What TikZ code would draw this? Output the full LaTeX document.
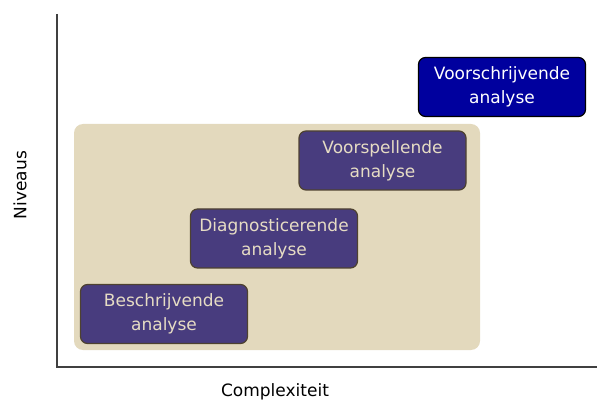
\documentclass[tikz,border=0pt]{standalone}
\usepackage{fontspec}
\setmainfont{DejaVu Sans}
\begin{document}
\begin{tikzpicture}[x=1pt,y=-1pt,
  purplebox/.style={draw=boxborder, line width=1.2pt, fill=boxpurple, rounded corners=7pt, text=boxtext, align=center, font=\fontsize{17}{24}\selectfont, inner sep=0pt, minimum width=167pt, minimum height=59pt},
  bluebox/.style={purplebox, fill=boxblue, draw=black, text=white},
  axis/.style={draw=black!75, line width=1.2pt}
]
\definecolor{boxpurple}{HTML}{483C7E}
\definecolor{boxblue}{HTML}{00009E}
\definecolor{boxborder}{HTML}{4E4230}
\definecolor{boxtext}{HTML}{E6DCC4}
\definecolor{bgbeige}{HTML}{E3D9BD}
\useasboundingbox (0,0) rectangle (597,403);
\fill[bgbeige, rounded corners=9pt] (74,124) rectangle (480,350);
\coordinate (ytop) at (57,14);
\coordinate (origin) at (57,367);
\coordinate (xend) at (597,367);
\draw[axis] (ytop) -- (origin) -- (xend);
\node[purplebox] (b) at (164,314) {Beschrijvende\\analyse};
\node[purplebox] (d) at (274,238.5) {Diagnosticerende\\analyse};
\node[purplebox] (v) at (382.5,160.5) {Voorspellende\\analyse};
\node[bluebox] (s) at (502,87) {Voorschrijvende\\analyse};
\node[font=\fontsize{17}{20}\selectfont, inner sep=1pt] (xl) at (275,392) {Complexiteit};
\node[font=\fontsize{17}{20}\selectfont, rotate=90] (yl) at (20,185) {Niveaus};
\end{tikzpicture}
\end{document}
